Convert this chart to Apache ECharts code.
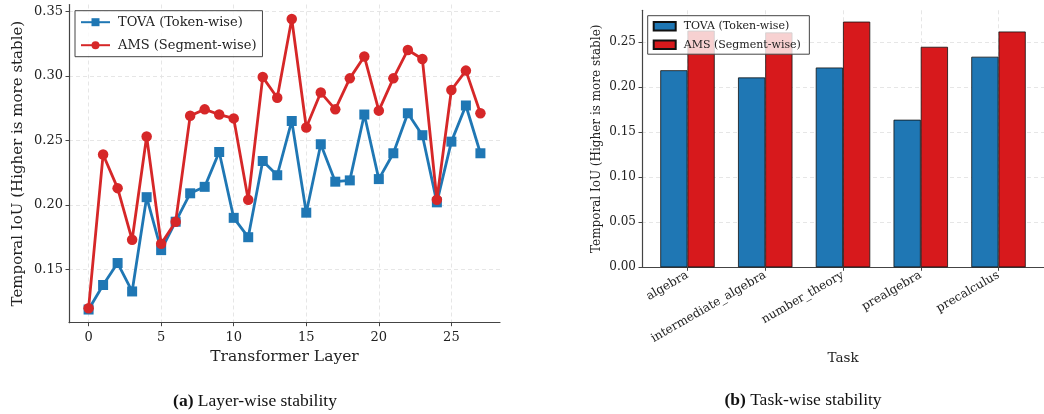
<!DOCTYPE html>
<html><head><meta charset="utf-8">
<script src="https://cdn.jsdelivr.net/npm/echarts@6/dist/echarts.min.js"></script>
<style>html,body{margin:0;padding:0;background:#fff}#c{width:1044px;height:414px}</style>
</head><body><div id="c"></div>
<script>
const layers = [0,1,2,3,4,5,6,7,8,9,10,11,12,13,14,15,16,17,18,19,20,21,22,23,24,25,26,27];
const tovaLayer = [0.119,0.138,0.155,0.133,0.206,0.165,0.187,0.209,0.214,0.241,0.190,0.175,0.234,0.223,0.265,0.194,0.247,0.218,0.219,0.270,0.220,0.240,0.271,0.254,0.202,0.249,0.277,0.240];
const amsLayer = [0.120,0.239,0.213,0.173,0.253,0.170,0.187,0.269,0.274,0.270,0.267,0.204,0.299,0.283,0.344,0.260,0.287,0.274,0.298,0.315,0.273,0.298,0.320,0.313,0.204,0.289,0.304,0.271];
const tasks = ['algebra','intermediate_algebra','number_theory','prealgebra','precalculus'];
const taskIdx = [0,1,2,3,4];
const tovaTask = [0.219,0.211,0.222,0.164,0.234];
const amsTask = [0.263,0.261,0.273,0.245,0.262];
const layerXTicks = [0,5,10,15,20,25];
const layerYTicks = [0.15,0.20,0.25,0.30,0.35];
const taskYTicks = [0,0.05,0.10,0.15,0.20,0.25];

const SERIF = 'DejaVu Serif';
const BLUE = '#1f77b4', RED = '#d62728', BARRED = '#d7191c';
const AX = '#444';
const gridLine = {show:true, lineStyle:{color:'#e3e3e3', type:[4,3], width:0.9}};
function axisBase(fs, margin){
  return {
    axisLine:{show:true, onZero:false, lineStyle:{color:AX, width:1.2}},
    axisTick:{show:true, inside:false, length:3.5, lineStyle:{color:AX, width:1}},
    axisLabel:{fontFamily:SERIF, fontSize:fs, color:'#222', margin:margin},
    splitLine:gridLine
  };
}
const chart = echarts.init(document.getElementById('c'), null, {renderer:'canvas'});
const f2 = v => v.toFixed(2);

const xL = axisBase(13, 8);
xL.axisTick.customValues = layerXTicks; xL.axisLabel.customValues = layerXTicks;
const yL = axisBase(13, 6);
yL.axisTick.customValues = layerYTicks; yL.axisLabel.customValues = layerYTicks; yL.axisLabel.formatter = f2;
const xR = axisBase(12, 7);
xR.axisTick.customValues = taskIdx; xR.axisLabel.customValues = taskIdx;
xR.axisLabel.formatter = v => tasks[Math.round(v)]; xR.axisLabel.rotate = 30;
const yR = axisBase(12, 6);
yR.axisTick.customValues = taskYTicks; yR.axisLabel.customValues = taskYTicks; yR.axisLabel.formatter = f2;

const option = {
  animation:false,
  backgroundColor:'#fff',
  grid:[
    {left:69, top:4.5, width:431, height:318.2},
    {left:642, top:10.3, width:405, height:257}
  ],
  xAxis:[
    Object.assign({type:'value', gridIndex:0, min:-1.35, max:28.35,
      name:'Transformer Layer', nameLocation:'middle', nameGap:24,
      nameTextStyle:{fontFamily:SERIF, fontSize:15.5, color:'#222'}}, xL),
    Object.assign({type:'value', gridIndex:1, min:-0.585, max:4.585,
      name:'Task', nameLocation:'middle', nameGap:74,
      nameTextStyle:{fontFamily:SERIF, fontSize:13.5, color:'#222'}}, xR)
  ],
  yAxis:[
    Object.assign({type:'value', gridIndex:0, min:0.1088, max:0.3552,
      name:'Temporal IoU (Higher is more stable)', nameLocation:'middle', nameGap:43,
      nameTextStyle:{fontFamily:SERIF, fontSize:15, color:'#222'}}, yL),
    Object.assign({type:'value', gridIndex:1, min:0, max:0.2856,
      name:'Temporal IoU (Higher is more stable)', nameLocation:'middle', nameGap:39,
      nameTextStyle:{fontFamily:SERIF, fontSize:12, color:'#222'}}, yR)
  ],
  legend:[
    {left:75, top:10.7, orient:'vertical', align:'left', itemWidth:29, itemHeight:10, itemGap:10,
     padding:[5,6,5,5], backgroundColor:'rgba(255,255,255,0.8)', borderColor:'#444', borderWidth:1,
     textStyle:{fontFamily:SERIF, fontSize:13, color:'#222', padding:[0,0,0,3]},
     data:['TOVA (Token-wise)','AMS (Segment-wise)']},
    {left:647.7, top:15.7, orient:'vertical', align:'left', itemWidth:22, itemHeight:8.5, itemGap:7.5,
     padding:[5,5,4,5], backgroundColor:'rgba(255,255,255,0.8)', borderColor:'#444', borderWidth:1,
     textStyle:{fontFamily:SERIF, fontSize:11, color:'#222', padding:[0,0,0,3]},
     data:[{name:'TOVA (Token-wise) ', icon:'rect'},{name:'AMS (Segment-wise) ', icon:'rect'}]}
  ],
  series:[
    {name:'TOVA (Token-wise)', type:'line', xAxisIndex:0, yAxisIndex:0, z:3,
     data:layers.map((l,i)=>[l,tovaLayer[i]]), symbol:'rect', symbolSize:10,
     lineStyle:{color:BLUE, width:2.8}, itemStyle:{color:BLUE}},
    {name:'AMS (Segment-wise)', type:'line', xAxisIndex:0, yAxisIndex:0, z:4,
     data:layers.map((l,i)=>[l,amsLayer[i]]), symbol:'circle', symbolSize:10.5,
     lineStyle:{color:RED, width:2.8}, itemStyle:{color:RED}},
    {name:'TOVA (Token-wise) ', type:'bar', xAxisIndex:1, yAxisIndex:1,
     data:taskIdx.map((t,i)=>[t,tovaTask[i]]), barWidth:'35%', barGap:'0%',
     itemStyle:{color:BLUE, borderColor:'#111', borderWidth:0.8}},
    {name:'AMS (Segment-wise) ', type:'bar', xAxisIndex:1, yAxisIndex:1,
     data:taskIdx.map((t,i)=>[t,amsTask[i]]), barWidth:'35%', barGap:'0%',
     itemStyle:{color:BARRED, borderColor:'#111', borderWidth:0.8}}
  ],
  graphic:[
    {type:'text', x:255, y:401, style:{text:'{b|(a)} Layer-wise stability',
      fontFamily:'Liberation Serif', fontSize:17.5, fill:'#111', align:'center', verticalAlign:'middle',
      rich:{b:{fontFamily:'Liberation Serif', fontSize:17.5, fontWeight:'bold', fill:'#111'}}}},
    {type:'text', x:803, y:400, style:{text:'{b|(b)} Task-wise stability',
      fontFamily:'Liberation Serif', fontSize:17.5, fill:'#111', align:'center', verticalAlign:'middle',
      rich:{b:{fontFamily:'Liberation Serif', fontSize:17.5, fontWeight:'bold', fill:'#111'}}}}
  ]
};
chart.setOption(option);
</script></body></html>
